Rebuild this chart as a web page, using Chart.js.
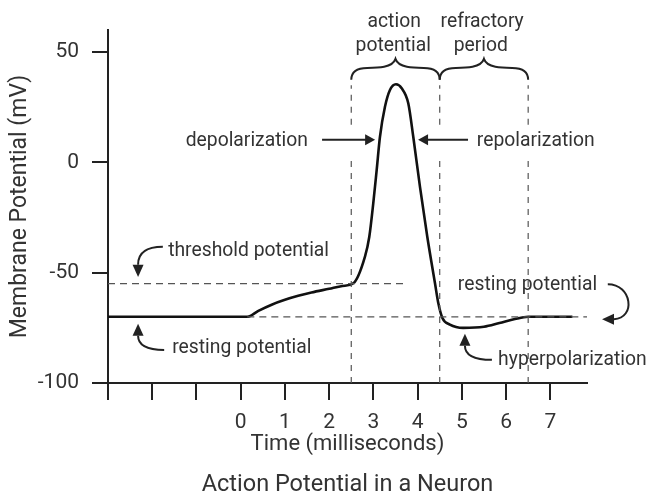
<!DOCTYPE html>
<html>
<head>
<meta charset="utf-8">
<script src="https://cdn.jsdelivr.net/npm/chart.js@4.4.1/dist/chart.umd.min.js"></script>
<style>
  body { margin: 0; background: #fff; }
</style>
</head>
<body>
<canvas id="chart" width="650" height="497"></canvas>
<script>
// trace
var timeMs = [-3, 0.15, 0.4, 0.7, 1.0, 1.3, 1.6, 2.0, 2.3, 2.546, 2.81, 2.908, 2.998, 3.075, 3.149, 3.262, 3.375, 3.511, 3.64, 3.789, 3.902, 4.053, 4.219, 4.393, 4.47, 4.56, 4.73, 5.03, 5.5, 5.85, 6.2, 6.5, 7.5];
var potentialMv = [-70, -70, -67.3, -64.5, -62.3, -60.5, -59, -57.3, -56, -54.8, -42.7, -33.7, -18.5, -3.4, 11.6, 25.2, 32.8, 35.4, 33.6, 26.8, 11.6, -11, -33.7, -54.8, -64, -70.5, -73.5, -75, -74.5, -72.8, -71, -70, -70];

var thresholdMv = -55;
var thresholdTime = [-3, 3.7];
var restingMv = -70;
var restingTime = [0.15, 7.83];
var phaseBounds = [2.5, 4.5, 6.5];   // start of AP, end of AP, end of refractory

var xTicks = [-3, -2, -1, 0, 1, 2, 3, 4, 5, 6, 7];
var yTicks = [-100, -50, 0, 50];

var font = 'Roboto, "Liberation Sans", sans-serif';
var ink = '#222';
var textInk = '#333';
var dashInk = '#555';

function pts(xs, ys) {
  var out = [];
  for (var i = 0; i < xs.length; i++) out.push({ x: xs[i], y: ys[i] });
  return out;
}

// vertical dashed lines, broken where the arrows pass
var verticals = [];
phaseBounds.forEach(function (t) {
  verticals.push({ x: t, y: -100 }, { x: t, y: 3 }, { x: t, y: null }, { x: t, y: 17 }, { x: t, y: 35 }, { x: t, y: null });
});

// annotations, in data units (ms, mV)
var labels = [
  { text: 'action', t: 3.47, v: 61.4, align: 'center' },
  { text: 'potential', t: 3.45, v: 50.5, align: 'center' },
  { text: 'refractory', t: 5.46, v: 61.4, align: 'center' },
  { text: 'period', t: 5.43, v: 50.5, align: 'center' },
  { text: 'depolarization', t: 1.52, v: 7.4, align: 'right' },
  { text: 'repolarization', t: 5.34, v: 7.4, align: 'left' },
  { text: 'threshold potential', t: -1.64, v: -42.4, align: 'left' },
  { text: 'resting potential', t: -1.55, v: -86.4, align: 'left' },
  { text: 'resting potential', t: 4.91, v: -57.8, align: 'left' },
  { text: 'hyperpolarization', t: 5.82, v: -91.8, align: 'left' }
];
var straightArrows = [
  { from: [1.84, 10.2], to: [3.04, 10.2] },
  { from: [5.14, 10.2], to: [4.01, 10.2] }
];
// start, control(s), base of head, tip
var curvedArrows = [
  [[-1.76, -38.3], [-2.32, -38.3], [-2.32, -46.4], [-2.32, -51.9]],
  [[-1.73, -85.0], [-2.32, -85.0], [-2.32, -78.6], [-2.32, -73.2]],
  [[5.68, -89.5], [5.07, -89.5], [5.07, -83.1], [5.07, -77.7]],
  [[8.30, -55.2], [8.85, -55.2], [8.94, -70.6], [8.44, -71.1], [8.17, -71.1]]
];

function head(ctx, bx, by, tx, ty) {
  var a = Math.atan2(ty - by, tx - bx);
  var w = 5.5;
  ctx.beginPath();
  ctx.moveTo(tx, ty);
  ctx.lineTo(bx + Math.cos(a + Math.PI / 2) * w, by + Math.sin(a + Math.PI / 2) * w);
  ctx.lineTo(bx + Math.cos(a - Math.PI / 2) * w, by + Math.sin(a - Math.PI / 2) * w);
  ctx.closePath();
  ctx.fill();
}

var notes = {
  id: 'notes',
  afterDatasetsDraw: function (chart) {
    var ctx = chart.ctx, sx = chart.scales.x, sy = chart.scales.y;
    function X(t) { return sx.getPixelForValue(t); }
    function Y(v) { return sy.getPixelForValue(v); }
    ctx.save();
    ctx.strokeStyle = ink;
    ctx.fillStyle = ink;
    ctx.lineWidth = 2;

    // braces over the two phases
    for (var i = 0; i < phaseBounds.length - 1; i++) {
      var x1 = X(phaseBounds[i]), x2 = X(phaseBounds[i + 1]), xc = (x1 + x2) / 2;
      var yEnd = Y(37.4), yBar = Y(42.8), yPeak = Y(46.9);
      ctx.beginPath();
      ctx.moveTo(x1, yEnd);
      ctx.bezierCurveTo(x1, yBar + 3, x1 + 6, yBar, x1 + 16, yBar);
      ctx.bezierCurveTo(xc - 18, yBar, xc - 3, yBar, xc, yPeak);
      ctx.bezierCurveTo(xc + 3, yBar, xc + 18, yBar, x2 - 16, yBar);
      ctx.bezierCurveTo(x2 - 6, yBar, x2, yBar + 3, x2, yEnd);
      ctx.stroke();
    }

    straightArrows.forEach(function (a) {
      var fx = X(a.from[0]), fy = Y(a.from[1]), tx = X(a.to[0]), ty = Y(a.to[1]);
      var dir = tx > fx ? 1 : -1;
      ctx.beginPath();
      ctx.moveTo(fx, fy);
      ctx.lineTo(tx - dir * 9, ty);
      ctx.stroke();
      head(ctx, tx - dir * 10, ty, tx, ty);
    });

    curvedArrows.forEach(function (p) {
      var q = p.map(function (d) { return [X(d[0]), Y(d[1])]; });
      ctx.beginPath();
      ctx.moveTo(q[0][0], q[0][1]);
      if (q.length === 4) {
        ctx.quadraticCurveTo(q[1][0], q[1][1], q[2][0], q[2][1]);
      } else {
        ctx.bezierCurveTo(q[1][0], q[1][1], q[2][0], q[2][1], q[3][0], q[3][1]);
      }
      ctx.stroke();
      var b = q[q.length - 2], t = q[q.length - 1];
      head(ctx, b[0], b[1], t[0], t[1]);
    });

    // labels in a slightly condensed face, like the original
    ctx.fillStyle = textInk;
    ctx.font = '21px ' + font;
    ctx.textBaseline = 'alphabetic';
    labels.forEach(function (l) {
      ctx.save();
      ctx.translate(X(l.t), Y(l.v));
      ctx.scale(0.92, 1);
      ctx.textAlign = l.align;
      ctx.fillText(l.text, 0, 0);
      ctx.restore();
    });
    ctx.restore();
  }
};

new Chart(document.getElementById('chart'), {
  type: 'scatter',
  data: {
    datasets: [
      {
        data: pts(thresholdTime, [thresholdMv, thresholdMv]),
        showLine: true, borderColor: dashInk, borderWidth: 1.2, borderDash: [7, 5], pointRadius: 0
      },
      {
        data: pts(restingTime, [restingMv, restingMv]),
        showLine: true, borderColor: dashInk, borderWidth: 1.2, borderDash: [7, 5], pointRadius: 0
      },
      {
        data: verticals,
        showLine: true, spanGaps: false, borderColor: dashInk, borderWidth: 1.2, borderDash: [6, 6], pointRadius: 0
      },
      {
        data: pts(timeMs, potentialMv),
        showLine: true, borderColor: '#111', borderWidth: 2.6, pointRadius: 0,
        cubicInterpolationMode: 'monotone'
      }
    ]
  },
  options: {
    responsive: false,
    animation: false,
    layout: { padding: { top: 30, right: 63, left: 0, bottom: 0 } },
    plugins: {
      legend: { display: false },
      tooltip: { enabled: false },
      title: {
        display: true, text: 'Action Potential in a Neuron', position: 'bottom', fullSize: false,
        color: textInk, font: { family: font, size: 23.5, weight: 'normal', lineHeight: 1 }, padding: 0
      }
    },
    scales: {
      x: {
        type: 'linear', min: -3, max: 7.83,
        afterBuildTicks: function (s) { s.ticks = xTicks.map(function (v) { return { value: v }; }); },
        afterFit: function (s) { s.height = 90.5; },
        grid: { drawOnChartArea: false, drawTicks: true, tickLength: 17, color: ink, lineWidth: 2 },
        border: { display: true, color: ink, width: 2 },
        ticks: {
          color: textInk, font: { family: font, size: 21 }, padding: 10, maxRotation: 0, autoSkip: false,
          callback: function (v) { return v >= 0 ? v : ''; }
        },
        title: {
          display: true, text: 'Time (milliseconds)', color: textInk,
          font: { family: font, size: 22 }, padding: { top: 0, bottom: 16 }
        }
      },
      y: {
        min: -100, max: 60,
        afterBuildTicks: function (s) { s.ticks = yTicks.map(function (v) { return { value: v }; }); },
        afterFit: function (s) { s.width = 108; },
        grid: { drawOnChartArea: false, drawTicks: true, tickLength: 16, color: ink, lineWidth: 2 },
        border: { display: true, color: ink, width: 2 },
        ticks: { color: textInk, font: { family: font, size: 21 }, padding: 13 },
        title: {
          display: true, text: 'Membrane Potential (mV)', color: textInk,
          font: { family: font, size: 23 }, padding: { top: 6, bottom: 0 }
        }
      }
    }
  },
  plugins: [notes]
});
</script>
</body>
</html>
